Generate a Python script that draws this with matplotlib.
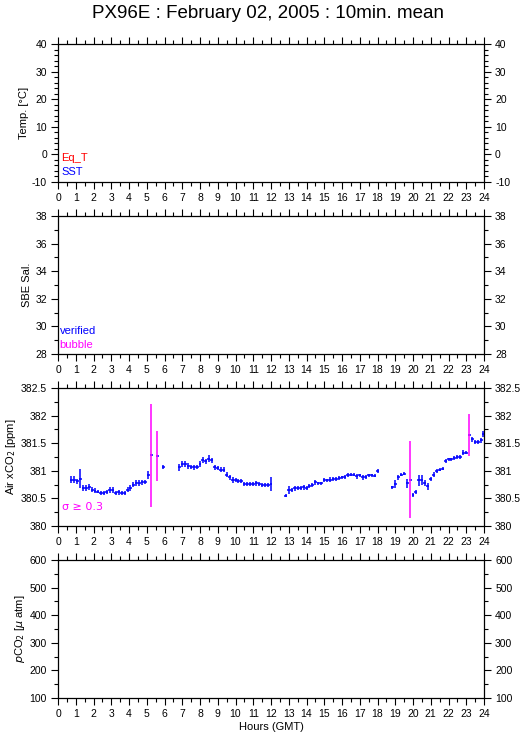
"""PX96E daily 10-min mean panels: temperature, salinity, air xCO2, pCO2."""

import matplotlib

matplotlib.use("Agg")
import matplotlib.pyplot as plt
import numpy as np
from matplotlib.ticker import FormatStrFormatter, FuncFormatter, MultipleLocator

plt.rcParams["font.family"] = ["Liberation Sans", "DejaVu Sans"]

TITLE = "PX96E : February 02, 2005 : 10min. mean"

# ---------------------------------------------------------------- data
# time of each 10-min mean [minutes of day], air xCO2 [ppm], std dev [ppm]
seg1_min = [45, 55, 65, 75, 85, 95, 105, 115, 125, 135, 145, 155, 165, 175,
            185, 195, 205, 215, 225, 235, 245, 255, 265, 275, 285, 295, 305,
            315, 335, 355]
seg1_xco2 = [380.84, 380.84, 380.81, 380.86, 380.69, 380.69, 380.71, 380.66,
             380.64, 380.62, 380.60, 380.60, 380.62, 380.65, 380.65, 380.60,
             380.61, 380.60, 380.60, 380.66, 380.69, 380.75, 380.78, 380.78,
             380.79, 380.80, 380.93, 381.28, 381.27, 381.07]
seg1_sd = [0.06, 0.06, 0.05, 0.17, 0.06, 0.05, 0.05, 0.04, 0.04, 0.03, 0.03,
           0.03, 0.04, 0.05, 0.05, 0.04, 0.04, 0.04, 0.03, 0.04, 0.05, 0.05,
           0.05, 0.05, 0.04, 0.04, 0.07, 0.93, 0.45, 0.04]

seg2_min = [410, 420, 430, 440, 450, 460, 470, 480, 490, 500, 510, 520, 530,
            540, 550, 560, 570, 580, 590, 600, 610, 620, 630, 640, 650, 660,
            670, 680, 690, 700, 710, 720]
seg2_xco2 = [381.06, 381.12, 381.12, 381.09, 381.07, 381.06, 381.07, 381.12,
             381.20, 381.17, 381.22, 381.19, 381.06, 381.05, 381.02, 381.02,
             380.93, 380.88, 380.83, 380.83, 380.82, 380.82, 380.76, 380.76,
             380.76, 380.76, 380.77, 380.76, 380.74, 380.74, 380.74, 380.76]
seg2_sd = [0.07, 0.05, 0.05, 0.05, 0.04, 0.04, 0.04, 0.05, 0.05, 0.05, 0.06,
           0.05, 0.05, 0.04, 0.05, 0.04, 0.04, 0.04, 0.05, 0.04, 0.04, 0.04,
           0.04, 0.03, 0.03, 0.03, 0.05, 0.03, 0.04, 0.04, 0.04, 0.12]

seg3_min = [770, 780, 790, 800, 810, 820, 830, 840, 850, 860, 870, 880, 890,
            900, 910, 920, 930, 940, 950, 960, 970, 980, 990, 1000, 1010,
            1020, 1030, 1040, 1050, 1060, 1070, 1080]
seg3_xco2 = [380.55, 380.65, 380.65, 380.68, 380.69, 380.69, 380.70, 380.69,
             380.72, 380.74, 380.79, 380.77, 380.77, 380.83, 380.83, 380.84,
             380.85, 380.85, 380.87, 380.88, 380.89, 380.92, 380.93, 380.93,
             380.90, 380.92, 380.88, 380.89, 380.92, 380.92, 380.91, 381.00]
seg3_sd = [0.03, 0.07, 0.04, 0.04, 0.04, 0.04, 0.04, 0.03, 0.04, 0.04, 0.04,
           0.03, 0.03, 0.04, 0.03, 0.04, 0.03, 0.03, 0.03, 0.03, 0.03, 0.04,
           0.03, 0.03, 0.04, 0.03, 0.04, 0.03, 0.03, 0.03, 0.03, 0.04]

seg4_min = [1130, 1140, 1150, 1160, 1170, 1180, 1190, 1200, 1210, 1220, 1230,
            1240, 1250, 1260, 1270, 1280, 1290, 1300, 1310, 1320, 1330, 1340,
            1350, 1360, 1370, 1380, 1390, 1400, 1410, 1420, 1430, 1437]
seg4_xco2 = [380.70, 380.76, 380.88, 380.93, 380.95, 380.77, 380.84, 380.56,
             380.62, 380.83, 380.83, 380.78, 380.72, 380.85, 380.93, 381.00,
             381.02, 381.04, 381.18, 381.21, 381.21, 381.23, 381.25, 381.25,
             381.33, 381.33, 381.65, 381.57, 381.52, 381.52, 381.55, 381.67]
seg4_sd = [0.03, 0.07, 0.05, 0.03, 0.03, 0.08, 0.70, 0.03, 0.04, 0.10, 0.09,
           0.06, 0.06, 0.04, 0.04, 0.04, 0.03, 0.03, 0.04, 0.03, 0.03, 0.04,
           0.03, 0.03, 0.04, 0.03, 0.38, 0.05, 0.04, 0.03, 0.04, 0.05]

SIGMA_FLAG = 0.3

# panel setup: (ylabel, ymin, ymax, major, minor)
PANELS = [
    ("Temp. [°C]", -10, 40, 10, 2),
    ("SBE Sal.", 28, 38, 2, 1),
    ("Air xCO$_2$ [ppm]", 380, 382.5, 0.5, 0.25),
    ("$p$CO$_2$ [$\\mu$ atm]", 100, 600, 100, 50),
]

BLUE = "#0000ff"
MAGENTA = "#ff00ff"
RED = "#ff0000"

# ---------------------------------------------------------------- figure
fig = plt.figure(figsize=(5.29, 7.39), dpi=100)
fig.text(0.507, 0.993, TITLE, ha="center", va="top", fontsize=13.5)

left, width, height = 58 / 529, 426 / 529, 138 / 739
bottoms = [1 - 182 / 739, 1 - 354 / 739, 1 - 526 / 739, 1 - 698 / 739]

axes = []
for (label, y0, y1, maj, mnr), bot in zip(PANELS, bottoms):
    ax = fig.add_axes([left, bot, width, height])
    ax.set_xlim(0, 24)
    ax.set_ylim(y0, y1)
    ax.xaxis.set_major_locator(MultipleLocator(1))
    ax.xaxis.set_minor_locator(MultipleLocator(0.5))
    ax.yaxis.set_major_locator(MultipleLocator(maj))
    ax.yaxis.set_minor_locator(MultipleLocator(mnr))
    ax.xaxis.set_major_formatter(FormatStrFormatter("%d"))
    ax.yaxis.set_major_formatter(FuncFormatter(lambda v, _: f"{v:g}"))
    ax.tick_params(which="both", direction="out", top=True, right=True,
                   labelright=True, labelsize=7.5, width=0.8, color="k")
    ax.tick_params(which="major", length=5, pad=3)
    ax.tick_params(which="minor", length=3)
    ax.set_ylabel(label, fontsize=8, labelpad=2)
    for sp in ax.spines.values():
        sp.set_linewidth(0.9)
    axes.append(ax)

ax_t, ax_s, ax_c, ax_p = axes

ax_t.text(0.008, 0.174, "Eq_T", color=RED, transform=ax_t.transAxes,
          fontsize=8, va="center")
ax_t.text(0.008, 0.072, "SST", color=BLUE, transform=ax_t.transAxes,
          fontsize=8, va="center")
ax_s.text(0.004, 0.167, "verified", color=BLUE, transform=ax_s.transAxes,
          fontsize=8, va="center")
ax_s.text(0.004, 0.065, "bubble", color=MAGENTA, transform=ax_s.transAxes,
          fontsize=8, va="center")
ax_c.text(0.01, 0.14, "σ ≥ 0.3", color=MAGENTA, transform=ax_c.transAxes,
          fontsize=8, va="center", family=["DejaVu Sans"])

# xCO2 10-min means: horizontal bar spans the averaging window,
# vertical bar is the std dev, flagged in magenta when sd >= 0.3
half_win = 5 / 60
for mins, vals, sds in [(seg1_min, seg1_xco2, seg1_sd),
                        (seg2_min, seg2_xco2, seg2_sd),
                        (seg3_min, seg3_xco2, seg3_sd),
                        (seg4_min, seg4_xco2, seg4_sd)]:
    h = np.asarray(mins) / 60.0
    v = np.asarray(vals)
    s = np.asarray(sds)
    flag = s >= SIGMA_FLAG
    ax_c.errorbar(h, v, xerr=half_win, fmt="none", ecolor=BLUE,
                  elinewidth=1.1, capsize=0)
    ax_c.errorbar(h[~flag], v[~flag], yerr=s[~flag], fmt="none",
                  ecolor=BLUE, elinewidth=1.1, capsize=0)
    if flag.any():
        ax_c.errorbar(h[flag], v[flag], yerr=s[flag], fmt="none",
                      ecolor=MAGENTA, elinewidth=1.1, capsize=0)

ax_p.set_xlabel("Hours (GMT)", fontsize=8, labelpad=2)

fig.savefig("out.png", dpi=100)
